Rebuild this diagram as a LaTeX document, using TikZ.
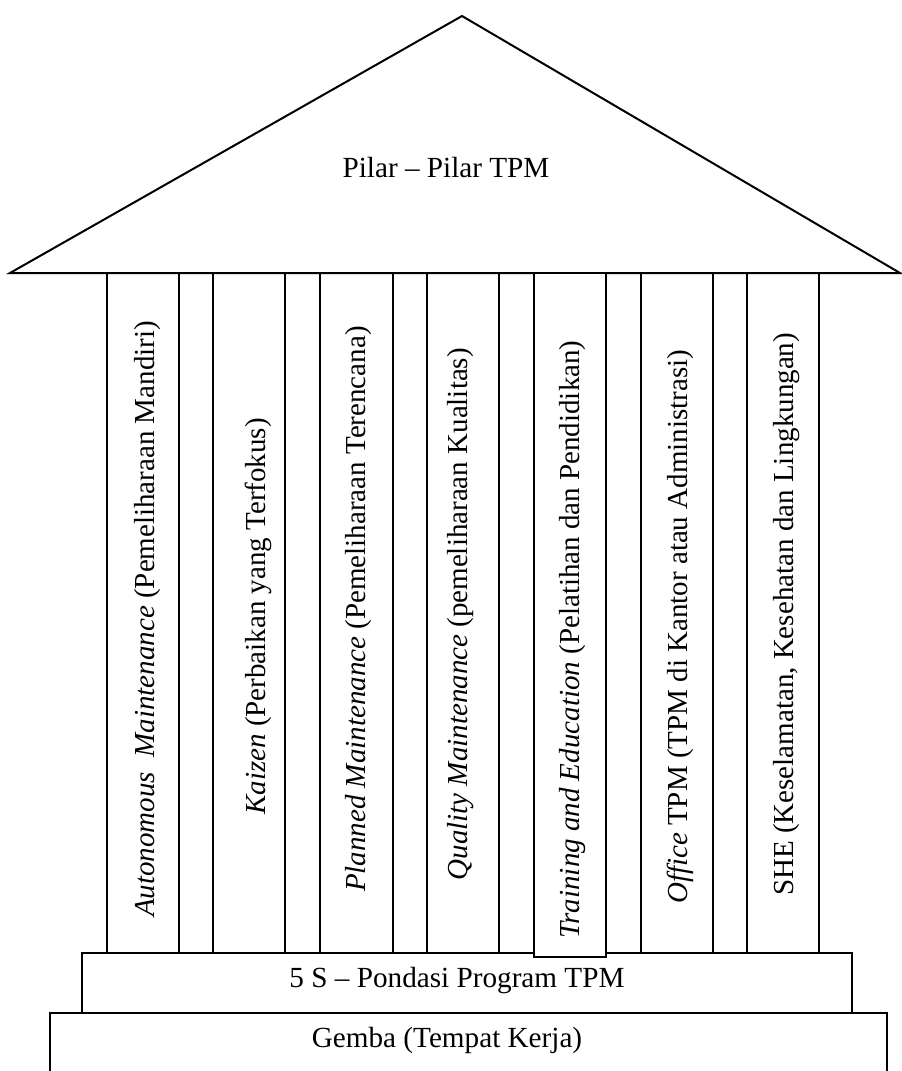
\documentclass[tikz,border=0pt]{standalone}
\usepackage{fontspec}
\setmainfont{Liberation Serif}
\usetikzlibrary{positioning}
\tikzset{
  pilarlabel/.style={rotate=90,inner sep=0pt,font=\fontsize{14.5}{17}\selectfont},
  baselabel/.style={inner sep=0pt,anchor=base,font=\fontsize{14.6}{17}\selectfont},
}
\begin{document}
\begin{tikzpicture}[x=0.5pt,y=-0.5pt,line width=1.1pt]
\useasboundingbox (0,0) rectangle (901,1071);
\draw[line width=1pt] (10,273) -- (462,16) -- (900,273) -- cycle;
\node[baselabel] (atap) at (446,177) {Pilar -- Pilar TPM};
\foreach \xa/\xb in {107/179,213/285,320/393,427/499,641/713,747/819}
  \draw (\xa,273) -- (\xa,953) (\xb,273) -- (\xb,953);
\draw (82,953) rectangle (852,1013);
\draw (50,1080) |- (887,1013) -- (887,1080);
\draw[fill=white] (534,273) rectangle (606,957);
\node[baselabel] (limas) at (457,987) {5 S -- Pondasi Program TPM};
\node[baselabel] (gemba) at (447,1047) {Gemba (Tempat Kerja)};
\node[pilarlabel,anchor=base west] (am) at (154,918) {\textit{Autonomous\ \ Maintenance} (Pemeliharaan Mandiri)};
\node[pilarlabel,anchor=base east] (kz) at (265,417) {\textit{Kaizen} (Perbaikan yang Terfokus)};
\node[pilarlabel,anchor=base west] (pm) at (365,893) {\textit{Planned Maintenance} (Pemeliharaan Terencana)};
\node[pilarlabel,anchor=base east] (qm) at (467,347) {\textit{Quality Maintenance} (pemeliharaan Kualitas)};
\node[pilarlabel,anchor=base west] (te) at (579,940) {\textit{Training and Education} (Pelatihan dan Pendidikan)};
\node[pilarlabel,anchor=base west] (ot) at (687,905) {\textit{Office} TPM (TPM di Kantor atau Administrasi)};
\node[pilarlabel,anchor=base west] (she) at (793,897) {SHE (Keselamatan, Kesehatan dan Lingkungan)};
\end{tikzpicture}
\end{document}
